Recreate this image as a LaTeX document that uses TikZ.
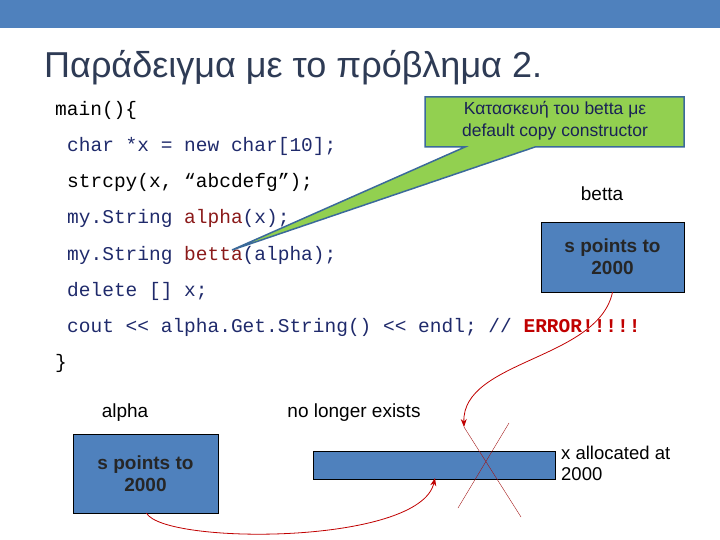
\documentclass[tikz,border=0pt]{standalone}
\usepackage{fontspec}
\setmainfont{Liberation Sans}
\newfontfamily\codefont{Liberation Mono}
\usetikzlibrary{arrows.meta}
\definecolor{barblue}{HTML}{4F81BD}
\definecolor{titlec}{HTML}{2E3B55}
\definecolor{navy}{HTML}{1F2A6B}
\definecolor{maroon}{HTML}{8B1A1A}
\definecolor{errred}{HTML}{C00000}
\definecolor{callg}{HTML}{92D050}
\definecolor{callb}{HTML}{3B6A9A}
\begin{document}
\begin{tikzpicture}[x=1pt,y=-1pt,
  code/.style={anchor=base west,inner sep=0,font=\codefont\fontsize{19.5}{22}\selectfont},
  lbl/.style={inner sep=0,font=\fontsize{19}{22}\selectfont},
  mem/.style={draw=black,fill=barblue,inner sep=0,align=center,font=\bfseries\fontsize{19}{22}\selectfont,text=black!85},
  redarr/.style={draw=errred,thick,-{Stealth[length=8pt]}}]
\useasboundingbox (0,0) rectangle (720,540);
\fill[barblue] (0,0) rectangle (720,28);
\node[anchor=base west,inner sep=0,text=titlec,font=\fontsize{36}{40}\selectfont] (title) at (44,78) {Παράδειγμα με το πρόβλημα 2.};
\node[code,text=black] (l0) at (55,116) {main()\{};
\node[code,text=navy] (l1) at (67,152) {char *x = new char[10];};
\node[code,text=black] (l2) at (67,188) {strcpy(x, “abcdefg”);};
\node[code,text=navy] (l3) at (67,224) {my.String \textcolor{maroon}{alpha}(x);};
\node[code,text=navy] (l4) at (67,260) {my.String \textcolor{maroon}{betta}(alpha);};
\node[code,text=navy] (l5) at (67,296) {delete [] x;};
\node[code,text=navy] (l6) at (67,332) {cout << alpha.Get.String() << endl; // \textcolor{errred}{\bfseries ERROR!!!!!}};
\node[code,text=black] (l7) at (55,368) {\}};
% callout
\coordinate (tip) at (232,250);
\fill[callg,draw=callb,line width=1.5pt] (425,97) -- (684,97) -- (684,147) -- (535,147) -- (tip) -- (465,147) -- (425,147) -- cycle;
\node[align=center,inner sep=0,text=navy!80!black,font=\fontsize{17.5}{22}\selectfont] (ctext) at (555,121) {Κατασκευή του betta με\\default copy constructor};
% betta
\node[lbl] (bl) at (602,194) {betta};
\node[mem,minimum width=143,minimum height=70] (bbox) at (612.5,257) {s points to\\2000};
% alpha
\node[lbl] (al) at (125,413) {alpha};
\node[mem,minimum width=145,minimum height=79] (abox) at (145.5,473.5) {s points to\\2000};
\node[lbl] (nle) at (354,413) {no longer exists};
\node[draw=black,fill=barblue,minimum width=242,minimum height=28,inner sep=0] (bar) at (434,465) {};
\node[lbl,anchor=north west,align=left,font=\fontsize{18.5}{21}\selectfont] (xa) at (561,446) {x allocated at\\2000};
% cross
\coordinate (c1) at (464,427); \coordinate (c2) at (521,517);
\coordinate (c3) at (509,423); \coordinate (c4) at (458,508);
\draw[maroon!80!red] (c1) -- (c2);
\draw[maroon!80!red] (c3) -- (c4);
% arrows
\coordinate (t2) at (435,478);
\draw[redarr] (bbox.south) .. controls (598,360) and (462,360) .. (c1);
\draw[redarr] ([xshift=1pt]abox.south) .. controls (165,545) and (420,545) .. (t2);
\end{tikzpicture}
\end{document}
